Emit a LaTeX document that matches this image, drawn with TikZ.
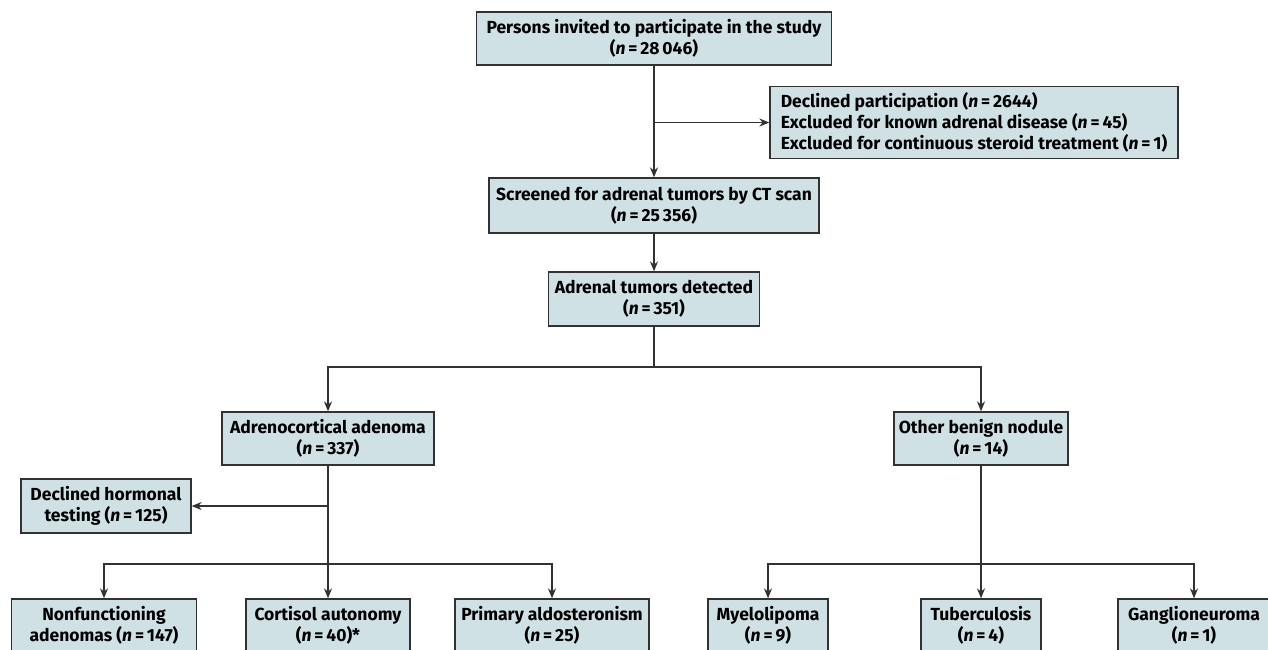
\documentclass[tikz,border=0pt]{standalone}
\usepackage{fontspec}
\setmainfont{Fira Sans}
\usetikzlibrary{positioning,arrows.meta}
\definecolor{boxfill}{RGB}{207,225,228}
\definecolor{boxline}{RGB}{50,50,50}
\newcommand{\nn}[1]{(\textit{n}\,=\,#1)}

\begin{document}
\begin{tikzpicture}[x=1pt,y=-1pt,
    stage/.style={draw=boxline, fill=boxfill, line width=1.3pt, align=center,
        inner sep=2pt, font=\fontsize{17.5}{21}\selectfont\bfseries},
    link/.style={draw=boxline, line width=1.4pt},
    go/.style={link, -{Stealth[length=10pt,width=8pt]}}]
\useasboundingbox (0,0) rectangle (1268,649);
\clip (0,0) rectangle (1268,649);

% main column
\node[stage, minimum width=355pt, minimum height=53pt] (invited) at (654,38.5)
    {Persons invited to participate in the study\\\nn{28\,046}};
\node[stage, minimum width=408pt, minimum height=72pt, align=left] (excluded) at (974,122.5)
    {Declined participation \nn{2644}\\Excluded for known adrenal disease \nn{45}\\Excluded for continuous steroid treatment \nn{1}};
\node[stage, minimum width=330pt, minimum height=55pt] (screened) at (654,205.5)
    {Screened for adrenal tumors by CT scan\\\nn{25\,356}};
\node[stage, minimum width=211pt, minimum height=54pt] (detected) at (654,299)
    {Adrenal tumors detected\\\nn{351}};

% second level
\node[stage, minimum width=212pt, minimum height=53pt] (adeno) at (328,438.5)
    {Adrenocortical adenoma\\\nn{337}};
\node[stage, minimum width=174pt, minimum height=53pt] (other) at (981,438.5)
    {Other benign nodule\\\nn{14}};
\node[stage, minimum width=170pt, minimum height=54pt] (declined) at (106,506)
    {Declined hormonal\\testing \nn{125}};

% bottom row
\node[stage, minimum width=185pt, minimum height=53pt] (nonfunc) at (104,625.5)
    {Nonfunctioning\\adenomas \nn{147}};
\node[stage, minimum width=164pt, minimum height=53pt] (cortisol) at (328,625.5)
    {Cortisol autonomy\\\nn{40}*};
\node[stage, minimum width=194pt, minimum height=53pt] (aldo) at (552,625.5)
    {Primary aldosteronism\\\nn{25}};
\node[stage, minimum width=120pt, minimum height=53pt] (myelo) at (768,625.5)
    {Myelolipoma\\\nn{9}};
\node[stage, minimum width=120pt, minimum height=53pt] (tuber) at (981,625.5)
    {Tuberculosis\\\nn{4}};
\node[stage, minimum width=152pt, minimum height=53pt] (gang) at (1194,625.5)
    {Ganglioneuroma\\\nn{1}};

\coordinate (split) at (654,367);
\coordinate (leftsplit) at (328,564);
\coordinate (rightsplit) at (981,564);

\draw[go] (invited) -- (screened);
\draw[go] (invited.south |- excluded.west) -- (excluded.west);
\draw[go] (screened) -- (detected);
\draw[link] (detected) -- (split);
\draw[go] (split) -| (adeno.north);
\draw[go] (split) -| (other.north);

\draw[go] (adeno) -- (cortisol);
\draw[go] (adeno.south |- declined.east) -- (declined.east);
\draw[go] (leftsplit) -| (nonfunc.north);
\draw[go] (leftsplit) -| (aldo.north);

\draw[go] (other) -- (tuber);
\draw[go] (rightsplit) -| (myelo.north);
\draw[go] (rightsplit) -| (gang.north);
\end{tikzpicture}
\end{document}
